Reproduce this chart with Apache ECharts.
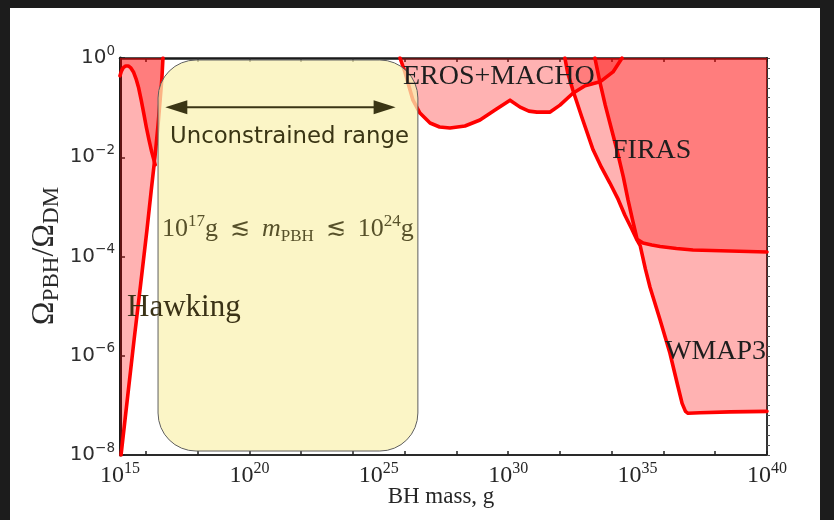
<!DOCTYPE html>
<html>
<head>
<meta charset="utf-8">
<script src="https://cdn.jsdelivr.net/npm/echarts@6/dist/echarts.min.js"></script>
<style>
  html, body { margin: 0; padding: 0; background: #1c1c1c; }
  #sheet { position: absolute; left: 10px; top: 8px; width: 810px; height: 512px; background: #ffffff; }
  #chart { position: absolute; left: 0; top: 0; width: 834px; height: 520px; }
</style>
</head>
<body>
<div id="sheet"></div>
<div id="chart"></div>
<script>
// Axes are in decades: x = log10(M / g), y = log10(Ω_PBH / Ω_DM)
const massRange = [15, 40];
const omegaRange = [-8, 0];
const massLabelTicks = [15, 20, 25, 30, 35, 40];
const massMinorTicks = [15, 16, 18, 20, 22, 24, 26, 28, 30, 32, 34, 36, 38, 40];
const omegaLabelTicks = [-8, -6, -4, -2, 0];

// Hawking evaporation bound (excluded to the left)
const hawkingEdge = [
  [15.04, -8.0], [15.3, -6.8], [15.55, -5.65], [15.8, -4.55], [16.04, -3.47],
  [16.2, -2.7], [16.35, -2.0], [16.47, -1.35], [16.55, -0.85], [16.62, -0.4], [16.66, 0]
];
// extragalactic gamma-ray bound (excluded above)
const gammaEdge = [
  [15.0, -0.36], [15.05, -0.27], [15.12, -0.2], [15.22, -0.16], [15.32, -0.16],
  [15.42, -0.2], [15.52, -0.28], [15.62, -0.42], [15.72, -0.6], [15.82, -0.85],
  [15.92, -1.12], [16.02, -1.4], [16.12, -1.65], [16.22, -1.88], [16.36, -2.15]
];
// EROS + MACHO microlensing
const erosMachoEdge = [
  [25.82, 0], [26.01, -0.28], [26.17, -0.58], [26.32, -0.85], [26.59, -1.11],
  [26.98, -1.31], [27.35, -1.39], [27.75, -1.41], [28.33, -1.37], [28.91, -1.25],
  [29.49, -1.05], [30.07, -0.85], [30.46, -0.99], [30.8, -1.07], [31.11, -1.09],
  [31.62, -1.09], [32.0, -0.95], [32.5, -0.71], [32.97, -0.56], [33.55, -0.48],
  [34.05, -0.28], [34.4, 0]
];
// WMAP3 accretion bound
const wmap3Edge = [
  [32.19, 0], [32.3, -0.3], [32.5, -0.65], [32.85, -1.2], [33.28, -1.85],
  [33.6, -2.2], [33.93, -2.52], [34.25, -2.85], [34.51, -3.17], [34.78, -3.45],
  [34.98, -3.67], [35.1, -3.78], [35.3, -4.25], [35.48, -4.62], [35.87, -5.28],
  [36.25, -5.95], [36.55, -6.6], [36.72, -6.96], [36.85, -7.12], [36.95, -7.16],
  [37.41, -7.15], [38.57, -7.13], [40, -7.12]
];
// FIRAS accretion bound
const firasEdge = [
  [33.35, 0], [33.45, -0.25], [33.55, -0.5], [33.75, -0.95], [34.0, -1.45],
  [34.2, -1.85], [34.45, -2.4], [34.63, -2.86], [34.8, -3.25], [34.98, -3.65],
  [35.21, -3.73], [35.55, -3.77], [35.87, -3.8], [36.5, -3.84], [37.14, -3.87],
  [38.57, -3.89], [40, -3.91]
];

// open window
const windowMass = [16.47, 26.51];
const windowOmega = [-7.92, -0.04];
const arrowMass = [16.75, 25.65];
const arrowOmega = -0.99;

const chart = echarts.init(document.getElementById('chart'), null, { renderer: 'canvas' });

const FILL = 'rgba(255,0,0,0.3)';
const EDGE = '#ff0000';

function fillSeries(points) {
  return {
    type: 'custom',
    coordinateSystem: 'cartesian2d',
    data: [[points[0][0], points[0][1]]],
    encode: { x: 0, y: 1 },
    silent: true,
    clip: true,
    z: 2,
    renderItem: function (params, api) {
      return {
        type: 'polygon',
        shape: { points: points.map(function (p) { return api.coord(p); }) },
        style: { fill: FILL, stroke: null }
      };
    }
  };
}

function edgeSeries(points) {
  return {
    type: 'line',
    data: points,
    showSymbol: false,
    silent: true,
    clip: true,
    z: 3,
    lineStyle: { color: EDGE, width: 3.6, cap: 'round', join: 'round' }
  };
}

const hawkingFill = [[15, -8]].concat(hawkingEdge, [[15, 0]]);
const gammaFill = gammaEdge.concat(hawkingEdge.filter(function (p) { return p[1] >= -2.0; }), [[15, 0]]);
const wmap3Fill = wmap3Edge.concat([[40, 0]]);
const firasFill = firasEdge.concat([[40, 0]]);

const supLabel = function (v) {
  const s = v < 0 ? '\u2212' + (-v) : String(v);
  return '{b|10}{s|' + s + '}';
};

const denseTicks = [];
for (let i = 0; i <= 40; i++) denseTicks.push(-8 + i * 0.2);

const frameColor = '#1a1a1a';

chart.setOption({
  animation: false,
  grid: { left: 120, top: 58, width: 647, height: 397, containLabel: false },
  xAxis: [
    {
      type: 'value', min: massRange[0], max: massRange[1], interval: 5, position: 'bottom',
      axisLine: { show: true, onZero: false, lineStyle: { color: '#2a2a2a', width: 2 } },
      axisTick: { show: true, inside: true, length: 4, customValues: massMinorTicks, lineStyle: { color: '#222', width: 1.5 } },
      axisLabel: {
        customValues: massLabelTicks, margin: 6, formatter: supLabel,
        rich: {
          b: { fontFamily: 'Liberation Serif', fontSize: 24, lineHeight: 30, color: '#262626' },
          s: { fontFamily: 'Liberation Serif', fontSize: 16, lineHeight: 16, verticalAlign: 'top', color: '#262626' }
        }
      },
      splitLine: { show: false }
    },
    {
      type: 'value', min: massRange[0], max: massRange[1], interval: 5, position: 'top',
      axisLine: { show: true, onZero: false, lineStyle: { color: frameColor, width: 2.5 } },
      axisTick: { show: true, inside: true, length: 4, customValues: massMinorTicks, lineStyle: { color: '#222', width: 1.5 } },
      axisLabel: { show: false },
      splitLine: { show: false }
    }
  ],
  yAxis: [
    {
      type: 'value', min: omegaRange[0], max: omegaRange[1], interval: 2, position: 'left',
      axisLine: { show: true, onZero: false, lineStyle: { color: frameColor, width: 3 } },
      axisTick: { show: true, inside: true, length: 5, customValues: omegaLabelTicks, lineStyle: { color: '#222', width: 1.5 } },
      axisLabel: {
        customValues: omegaLabelTicks, margin: 5, formatter: supLabel,
        rich: {
          b: { fontFamily: 'DejaVu Sans', fontSize: 20, lineHeight: 28, color: '#2e2e2e' },
          s: { fontFamily: 'DejaVu Sans', fontSize: 13.5, lineHeight: 13, verticalAlign: 'top', color: '#2e2e2e' }
        }
      },
      splitLine: { show: false }
    },
    {
      type: 'value', min: omegaRange[0], max: omegaRange[1], interval: 2, position: 'right',
      axisLine: { show: true, onZero: false, lineStyle: { color: '#333', width: 2 } },
      axisTick: { show: true, inside: false, length: 3, customValues: denseTicks, lineStyle: { color: '#555', width: 1 } },
      axisLabel: { show: false },
      splitLine: { show: false }
    }
  ],
  series: [
    fillSeries(hawkingFill),
    fillSeries(gammaFill),
    fillSeries(erosMachoEdge),
    fillSeries(wmap3Fill),
    fillSeries(firasFill),
    edgeSeries(hawkingEdge),
    edgeSeries(gammaEdge),
    edgeSeries(erosMachoEdge),
    edgeSeries(wmap3Edge),
    edgeSeries(firasEdge)
  ]
});

// pixel positions of the window box and the arrow, taken from the axes
const px = function (m, o) { return chart.convertToPixel({ gridIndex: 0 }, [m, o]); };
const boxTL = px(windowMass[0], windowOmega[1]);
const boxBR = px(windowMass[1], windowOmega[0]);
const arL = px(arrowMass[0], arrowOmega);
const arR = px(arrowMass[1], arrowOmega);
const ink = '#3a3514';
const headLen = 22, headHalf = 7;

const serifLabel = function (text, x, y, size) {
  return {
    type: 'text', z: 60, x: x, y: y,
    style: { text: text, fontFamily: 'Liberation Serif', fontSize: size, fill: '#1e1e1e', align: 'left', verticalAlign: 'middle' }
  };
};

const rangeInk = '#57512a';

chart.setOption({
  graphic: [
    {
      type: 'rect', z: 40,
      shape: { x: boxTL[0], y: boxTL[1], width: boxBR[0] - boxTL[0], height: boxBR[1] - boxTL[1], r: 38 },
      style: { fill: 'rgba(250,242,178,0.74)', stroke: '#5e5e5e', lineWidth: 1 }
    },
    {
      type: 'line', z: 45,
      shape: { x1: arL[0] + headLen - 2, y1: arL[1], x2: arR[0] - headLen + 2, y2: arR[1] },
      style: { stroke: ink, lineWidth: 2 }
    },
    {
      type: 'polygon', z: 45,
      shape: { points: [[arL[0], arL[1]], [arL[0] + headLen, arL[1] - headHalf], [arL[0] + headLen, arL[1] + headHalf]] },
      style: { fill: ink }
    },
    {
      type: 'polygon', z: 45,
      shape: { points: [[arR[0], arR[1]], [arR[0] - headLen, arR[1] - headHalf], [arR[0] - headLen, arR[1] + headHalf]] },
      style: { fill: ink }
    },
    {
      type: 'text', z: 60, x: 170, y: 137,
      style: { text: 'Unconstrained range', fontFamily: 'DejaVu Sans', fontSize: 22.8, fill: ink, align: 'left', verticalAlign: 'middle' }
    },
    {
      type: 'text', z: 60, x: 162, y: 229,
      style: {
        text: '{n|10}{s|17}{n|g}{r|\u2272}{i|m}{u|PBH}{r|\u2272}{n|10}{s|24}{n|g}',
        align: 'left', verticalAlign: 'middle',
        rich: {
          n: { fontFamily: 'Liberation Serif', fontSize: 26, lineHeight: 32, fill: rangeInk },
          r: { fontFamily: 'DejaVu Serif', fontSize: 24, lineHeight: 32, padding: [0, 12, 0, 12], fill: rangeInk },
          s: { fontFamily: 'Liberation Serif', fontSize: 17, lineHeight: 17, verticalAlign: 'top', fill: rangeInk },
          i: { fontFamily: 'Liberation Serif', fontStyle: 'italic', fontSize: 26, lineHeight: 32, fill: rangeInk },
          u: { fontFamily: 'Liberation Serif', fontSize: 17, lineHeight: 17, verticalAlign: 'bottom', fill: rangeInk }
        }
      }
    },
    {
      type: 'text', z: 60, x: 127, y: 308,
      style: { text: 'Hawking', fontFamily: 'Liberation Serif', fontSize: 31, fill: '#3a3216', align: 'left', verticalAlign: 'middle' }
    },
    serifLabel('EROS+MACHO', 403, 77, 28),
    serifLabel('FIRAS', 612, 151, 28),
    serifLabel('WMAP3', 665, 352, 28),
    {
      type: 'text', z: 60, x: 441, y: 497,
      style: { text: 'BH mass, g', fontFamily: 'Liberation Serif', fontSize: 23, fill: '#262626', align: 'center', verticalAlign: 'middle' }
    },
    {
      type: 'text', z: 60, x: 45, y: 256, rotation: Math.PI / 2,
      style: {
        text: '{o|\u03a9}{u|PBH}{o|/\u03a9}{u|DM}',
        align: 'center', verticalAlign: 'middle',
        rich: {
          o: { fontFamily: 'Liberation Serif', fontSize: 32, lineHeight: 36, fill: '#2a2a2a' },
          u: { fontFamily: 'Liberation Serif', fontSize: 23, lineHeight: 23, verticalAlign: 'bottom', fill: '#2a2a2a' }
        }
      }
    }
  ]
});
</script>
</body>
</html>
